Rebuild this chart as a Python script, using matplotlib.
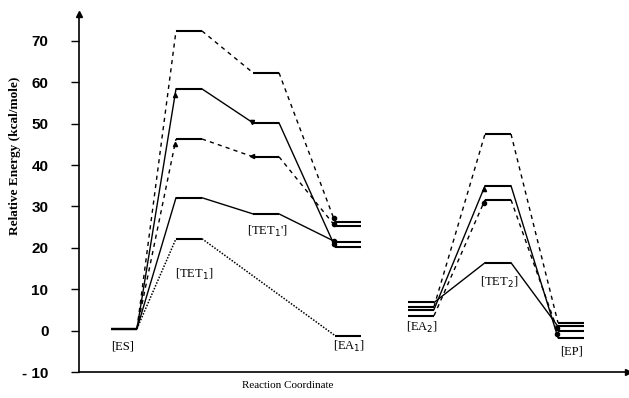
import numpy as np
import matplotlib
matplotlib.use("Agg")
import matplotlib.pyplot as plt

# ---------------- data ----------------
stage_labels_1 = ["[ES]", "[TET$_1$]", "[TET$_1$']", "[EA$_1$]"]
stage_labels_2 = ["[EA$_2$]", "[TET$_2$]", "[EP]"]

# part 1 energies (kcal/mole): ES, TET1, TET1', EA1  (nan = level not present)
s1_a = [0.5, 72.4, 62.3, 26.3]
s1_b = [0.5, 58.4, 50.2, 20.3]
s1_c = [0.5, 46.3, 42.0, 25.3]
s1_d = [0.5, 32.1, 28.2, 21.5]
s1_e = [0.5, 22.2, np.nan, -1.2]

# part 2 energies: EA2, TET2, EP
s2_f = [5.8, 47.5, 1.9]
s2_g = [5.1, 35.0, -1.7]
s2_h = [3.6, 31.6, -0.2]
s2_i = [6.8, 16.4, 1.0]

yticks = [-10, 0, 10, 20, 30, 40, 50, 60, 70]
ytick_labels = ["- 10", "0", "10", "20", "30", "40", "50", "60", "70"]

# ---------------- layout ----------------
W, H = 629, 398
fig = plt.figure(figsize=(W / 100, H / 100), dpi=100)
ax = fig.add_axes([79 / W, 26 / H, 549 / W, 358 / H])
ax.set_xlim(0, 549)
ax.set_ylim(-10, 76.5)

left1 = [32, 97, 174, 256]
left2 = [329, 406, 479]
wid = 26

def draw(levels, lefts, ls, lw_slope, marks=None):
    pts = [(l, v) for l, v in zip(lefts, levels) if not np.isnan(v)]
    for i, (l, v) in enumerate(pts):
        ax.plot([l, l + wid], [v, v], color="black", lw=1.5, solid_capstyle="butt")
        if i + 1 < len(pts):
            l2, v2 = pts[i + 1]
            ax.plot([l + wid, l2], [v, v2], color="black", lw=lw_slope, ls=ls)
            if marks is not None and i in marks:
                m = marks[i]
                f = 0.975
                ax.plot(l + wid + f * (l2 - l - wid), v + f * (v2 - v),
                        marker=m, color="black", ms=3, mec="black")

dash = (0, (3, 3))
dot = (0, (1, 1))
draw(s1_a, left1, dash, 1.0, marks={2: "o"})
draw(s1_b, left1, "-", 1.0, marks={0: "^", 1: "v", 2: "o"})
draw(s1_c, left1, dash, 1.0, marks={0: "^", 1: "<", 2: "o"})
draw(s1_d, left1, "-", 1.0, marks={2: "o"})
draw(s1_e, left1, dot, 1.1)

draw(s2_f, left2, dash, 1.0)
draw(s2_g, left2, "-", 1.0, marks={0: "^", 1: "o"})
draw(s2_h, left2, dash, 1.0, marks={0: "o", 1: "o"})
draw(s2_i, left2, "-", 1.0)

# stage labels
lab_kw = dict(fontsize=9, family="Liberation Serif", ha="center", va="center")
ax.text(left1[0] + 12, -3.9, stage_labels_1[0], **lab_kw)
ax.text(left1[1] + 18, 13.5, stage_labels_1[1], **lab_kw)
ax.text(left1[2] + 14, 23.9, stage_labels_1[2], **lab_kw)
ax.text(left1[3] + 14, -3.9, stage_labels_1[3], **lab_kw)
ax.text(left2[0] + 14, 0.7, stage_labels_2[0], **lab_kw)
ax.text(left2[1] + 14, 11.6, stage_labels_2[1], **lab_kw)
ax.text(left2[2] + 14, -5.1, stage_labels_2[2], **lab_kw)

# axes styling
for s in ["top", "right"]:
    ax.spines[s].set_visible(False)
ax.spines["left"].set_linewidth(1.2)
ax.spines["bottom"].set_linewidth(1.2)
ax.set_yticks(yticks)
ax.set_yticklabels(ytick_labels, family="Liberation Sans", fontsize=11, fontweight="bold")
ax.set_xticks([])
ax.tick_params(axis="y", direction="out", length=6, width=1, pad=16)
ax.plot([1], [0], marker=">", ms=5, color="black", transform=ax.transAxes, clip_on=False)
ax.plot([0], [1], marker="^", ms=5, color="black", transform=ax.transAxes, clip_on=False)

fig.text(288 / W, 1 - 386 / H, "Reaction Coordinate", family="Liberation Serif",
         fontsize=8, ha="center", va="center")
fig.text(15 / W, 1 - 156 / H, "Relative Energy (kcal/mole)", family="Liberation Serif",
         fontsize=9.5, fontweight="bold", rotation=90, ha="center", va="center")

fig.savefig("out.png", dpi=100)
